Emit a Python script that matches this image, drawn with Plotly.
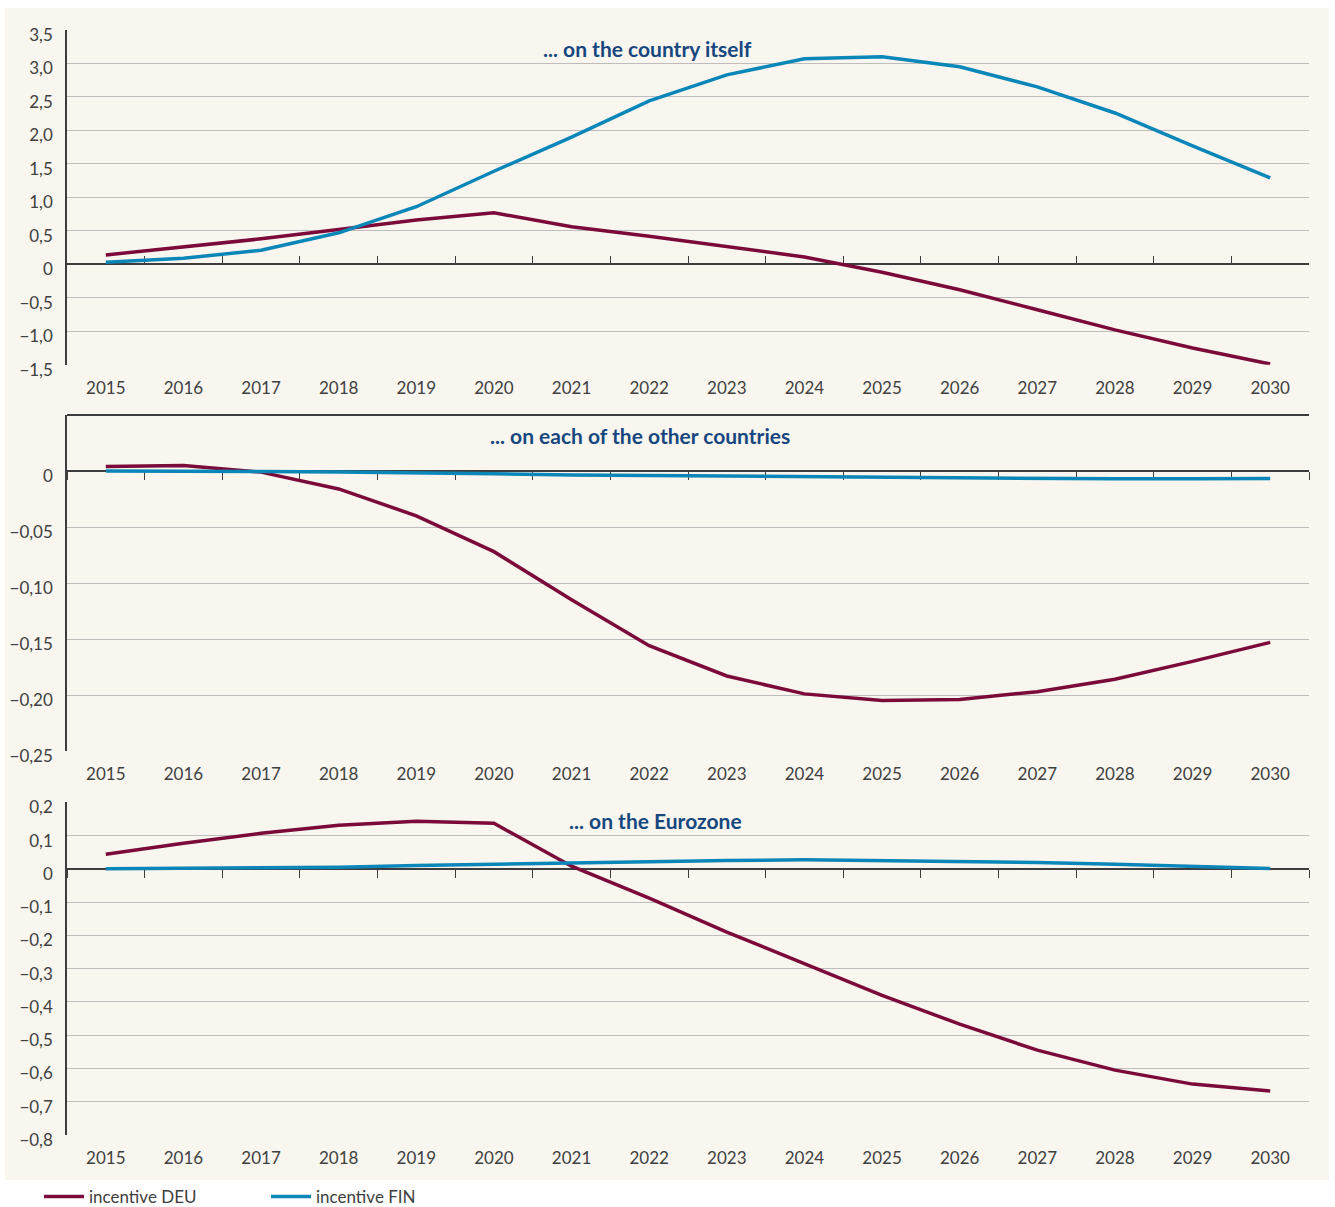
import plotly.graph_objects as go

years = list(range(2015, 2031))
year_labels = [str(y) for y in years]

# Panel 1: effect on the country itself
deu_country = [0.14, 0.26, 0.38, 0.52, 0.66, 0.77, 0.56, 0.42, 0.27, 0.11, -0.12, -0.38, -0.68, -0.98, -1.25, -1.49]
fin_country = [0.03, 0.09, 0.21, 0.47, 0.86, 1.39, 1.90, 2.44, 2.83, 3.07, 3.10, 2.95, 2.65, 2.26, 1.77, 1.29]

# Panel 2: effect on each of the other countries
deu_others = [0.004, 0.005, -0.001, -0.016, -0.040, -0.072, -0.115, -0.156, -0.183, -0.199, -0.205, -0.204, -0.197, -0.186, -0.170, -0.153]
fin_others = [0.0, 0.0, -0.0005, -0.001, -0.0015, -0.0025, -0.0035, -0.004, -0.005, -0.0055, -0.006, -0.0065, -0.007, -0.007, -0.007, -0.0068]

# Panel 3: effect on the Eurozone
deu_ez = [0.044, 0.077, 0.107, 0.131, 0.143, 0.137, 0.008, -0.088, -0.19, -0.286, -0.38, -0.467, -0.545, -0.605, -0.647, -0.668]
fin_ez = [0.0, 0.001, 0.002, 0.005, 0.01, 0.014, 0.018, 0.022, 0.025, 0.027, 0.025, 0.023, 0.019, 0.014, 0.008, 0.001]

y1_vals = [3.5, 3.0, 2.5, 2.0, 1.5, 1.0, 0.5, 0, -0.5, -1.0, -1.5]
y1_text = ["3,5", "3,0", "2,5", "2,0", "1,5", "1,0", "0,5", "0", "\u22120,5", "\u22121,0", "\u22121,5"]
y2_vals = [0, -0.05, -0.10, -0.15, -0.20, -0.25]
y2_text = ["0", "\u22120,05", "\u22120,10", "\u22120,15", "\u22120,20", "\u22120,25"]
y3_vals = [0.2, 0.1, 0, -0.1, -0.2, -0.3, -0.4, -0.5, -0.6, -0.7, -0.8]
y3_text = ["0,2", "0,1", "0", "\u22120,1", "\u22120,2", "\u22120,3", "\u22120,4", "\u22120,5", "\u22120,6", "\u22120,7", "\u22120,8"]

titles = ["... on the country itself", "... on each of the other countries", "... on the Eurozone"]
series_names = ["incentive DEU", "incentive FIN"]

DEU_C = "#7b0a3a"
FIN_C = "#0a86b8"
GRID_C = "#bdbdbd"
AXIS_C = "#3d3d3d"
TXT_C = "#404040"
TITLE_C = "#17477f"
BG = "#f8f6ef"

W, H = 1335, 1207
ML, MR, MT, MB = 67, 26, 30, 72
ph = H - MT - MB

def py(pix):
    return (H - MB - pix) / ph

def px(pix):
    return (pix - ML) / (W - ML - MR)

dom1 = [py(364.7), 1.0]
dom2 = [py(751), py(415)]
dom3 = [0.0, py(802.3)]
r1 = [-1.5, 3.5]
r2 = [-0.25, 0.05]
r3 = [-0.8, 0.2]

def zero_pos(dom, rng):
    return dom[0] + (0 - rng[0]) / (rng[1] - rng[0]) * (dom[1] - dom[0])

fig = go.Figure()
panels = [
    (deu_country, fin_country, "x", "y"),
    (deu_others, fin_others, "x2", "y2"),
    (deu_ez, fin_ez, "x3", "y3"),
]
for i, (d, f, xa, ya) in enumerate(panels):
    fig.add_trace(go.Scatter(x=years, y=d, mode="lines", name=series_names[0],
                             line=dict(color=DEU_C, width=3.5), xaxis=xa, yaxis=ya,
                             showlegend=(i == 0), legendgroup="deu"))
    fig.add_trace(go.Scatter(x=years, y=f, mode="lines", name=series_names[1],
                             line=dict(color=FIN_C, width=3.5), xaxis=xa, yaxis=ya,
                             showlegend=(i == 0), legendgroup="fin"))

# dummy traces for overlay axes (zero lines with boundary ticks, top border)
for xa, ya in [("x4", "y"), ("x5", "y2"), ("x6", "y3"), ("x7", "y2")]:
    fig.add_trace(go.Scatter(x=[], y=[], xaxis=xa, yaxis=ya, showlegend=False, hoverinfo="skip"))

tickfont = dict(family="Lato", size=17, color=TXT_C)
xrange = [years[0] - 0.5, years[-1] + 0.5]

def main_x(anchor):
    return dict(range=xrange, tickvals=years, ticktext=year_labels, showgrid=False,
                zeroline=False, showline=False, ticks="", tickfont=tickfont,
                anchor=anchor, ticklabelstandoff=11, fixedrange=True, automargin=False)

def main_y(dom, rng, vals, text):
    return dict(domain=dom, range=rng, tickvals=vals, ticktext=text, showgrid=True,
                gridcolor=GRID_C, gridwidth=1, zeroline=False, showline=True,
                linecolor=AXIS_C, linewidth=1.5, ticks="", tickfont=tickfont,
                ticklabelstandoff=9, ticklabelshift=5, fixedrange=True, automargin=False)

def overlay_x(over, pos, ticks):
    return dict(overlaying=over, anchor="free", position=pos, range=xrange,
                tick0=xrange[0], dtick=1, ticks=ticks, ticklen=8, tickwidth=1.3,
                tickcolor=AXIS_C, showticklabels=False, showgrid=False, zeroline=False,
                showline=True, linecolor=AXIS_C, linewidth=1.5, layer="below traces",
                fixedrange=True, automargin=False)

fig.update_layout(
    width=W, height=H,
    margin=dict(l=ML, r=MR, t=MT, b=MB, autoexpand=False),
    paper_bgcolor="white",
    plot_bgcolor=BG,
    font=dict(family="Lato", color=TXT_C),
    xaxis=main_x("y"), xaxis2=main_x("y2"), xaxis3=main_x("y3"),
    yaxis=main_y(dom1, r1, y1_vals, y1_text),
    yaxis2=main_y(dom2, r2, y2_vals, y2_text),
    yaxis3=main_y(dom3, r3, y3_vals, y3_text),
    xaxis4=overlay_x("x", zero_pos(dom1, r1), "inside"),
    xaxis5=overlay_x("x2", zero_pos(dom2, r2), "outside"),
    xaxis6=overlay_x("x3", zero_pos(dom3, r3), "outside"),
    xaxis7=dict(overlaying="x2", anchor="free", position=dom2[1], range=xrange,
                ticks="", showticklabels=False, showgrid=False, zeroline=False,
                showline=True, linecolor=AXIS_C, linewidth=1.5, fixedrange=True,
                automargin=False),
    showlegend=True,
    legend=dict(orientation="h", xref="container", yref="container",
                x=39 / W, xanchor="left", y=(H - 1197) / H, yanchor="middle",
                font=dict(family="Lato", size=17, color=TXT_C), bgcolor="rgba(0,0,0,0)",
                entrywidth=172, entrywidthmode="pixels", itemwidth=40),
    shapes=[dict(type="rect", xref="paper", yref="paper", x0=px(5), x1=px(1329),
                 y0=py(1180), y1=py(8), fillcolor=BG, line=dict(width=0), layer="below")],
)

title_pos = [(647, 48), (640, 435), (655.5, 820)]
for t, (cx, cy) in zip(titles, title_pos):
    fig.add_annotation(text="<b>%s</b>" % t, xref="paper", yref="paper", x=px(cx), y=py(cy),
                       xanchor="center", yanchor="middle", showarrow=False,
                       font=dict(family="Lato", size=21, color=TITLE_C))

fig.write_html("out.html", config={"displayModeBar": False},
               post_script="document.body.style.margin='0';document.body.style.overflow='hidden';")
